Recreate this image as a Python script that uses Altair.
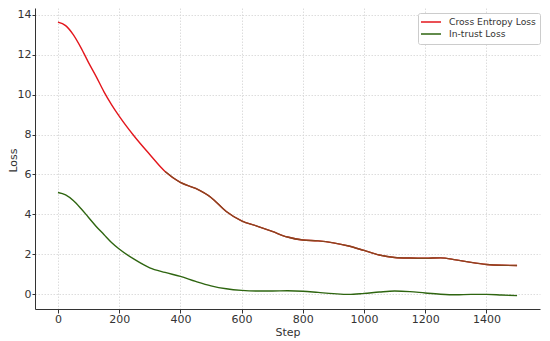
import altair as alt
import pandas as pd

steps = [0, 25, 50, 75, 100, 125, 150, 175, 200, 250, 300, 350, 400, 450, 500, 550,
         600, 650, 700, 750, 800, 850, 900, 950, 1000, 1050, 1100, 1150, 1200, 1250,
         1300, 1350, 1400, 1450, 1500]
ce_loss = [13.62, 13.45, 13.0, 12.35, 11.6, 10.9, 10.15, 9.5, 8.92, 7.9, 7.0, 6.15,
           5.6, 5.3, 4.85, 4.15, 3.68, 3.42, 3.15, 2.87, 2.72, 2.68, 2.58, 2.42, 2.2,
           1.97, 1.85, 1.82, 1.81, 1.83, 1.73, 1.6, 1.5, 1.46, 1.45]
trust_loss = [5.1, 4.98, 4.7, 4.3, 3.85, 3.4, 3.0, 2.6, 2.27, 1.75, 1.33, 1.1, 0.9,
              0.65, 0.43, 0.28, 0.2, 0.17, 0.17, 0.18, 0.16, 0.1, 0.04, 0.0, 0.05,
              0.12, 0.17, 0.14, 0.07, 0.01, -0.02, 0.0, 0.0, -0.03, -0.06]
series = ["Cross Entropy Loss", "In-trust Loss"]
colors = ["#e3161c", "#2e6510"]
brown = "#87461f"
x_ticks = [0, 200, 400, 600, 800, 1000, 1200, 1400]
y_ticks = [0, 2, 4, 6, 8, 10, 12, 14]

rows = []
for s, v in zip(steps, ce_loss):
    rows.append({"Step": s, "Loss": v, "Series": series[0]})
for s, v in zip(steps, trust_loss):
    rows.append({"Step": s, "Loss": v, "Series": series[1]})
df = pd.DataFrame(rows)

font = "DejaVu Sans"
x = alt.X("Step:Q", scale=alt.Scale(domain=[-75, 1575], nice=False, zero=False),
          axis=alt.Axis(values=x_ticks, format="d", title="Step", titleY=17,
                        titleBaseline="top", tickSize=4, labelPadding=0))
y = alt.Y("Loss:Q", scale=alt.Scale(domain=[-0.73, 14.33], nice=False, zero=False),
          axis=alt.Axis(values=y_ticks, format="d", title="Loss", titleX=-19, titleY=152,
                        titleBaseline="alphabetic", tickSize=3, labelPadding=1))

base = alt.Chart(df).mark_line(strokeWidth=1.4, interpolate="monotone").encode(
    x=x, y=y,
    color=alt.Color("Series:N", scale=alt.Scale(domain=series, range=colors),
                    legend=alt.Legend(title=None, orient="none", legendX=383, legendY=5,
                                      symbolType="M-2.5,0H2.5", symbolSize=64,
                                      symbolStrokeWidth=1.5, symbolOffset=4,
                                      labelFontSize=9.2,
                                      labelFont=font, labelColor="#333333",
                                      fillColor="white", strokeColor="#cccccc",
                                      padding=4, cornerRadius=2, rowPadding=1,
                                      labelOffset=13)),
)

overlay = alt.Chart(df).transform_filter(
    (alt.datum.Series == series[0]) & (alt.datum.Step >= 350)
).mark_line(strokeWidth=1.4, interpolate="monotone", color=brown).encode(x=x, y=y)

chart = alt.layer(base, overlay).properties(
    width=505, height=301,
    autosize=alt.AutoSizeParams(type="none"),
    padding={"left": 27, "top": 0, "right": 2, "bottom": 30},
).configure_view(stroke=None).configure_axis(
    grid=True, gridColor="#d4d4d4", gridDash=[1.5, 1.5], gridWidth=0.8,
    domainColor="#333333", domainWidth=1, tickColor="#333333", tickWidth=1,
    labelFont=font, labelFontSize=11, labelColor="#333333",
    titleFont=font, titleFontSize=11, titleColor="#333333", titleFontWeight="normal",
)

chart.save("out.html", embed_options={"renderer": "svg", "actions": False})
